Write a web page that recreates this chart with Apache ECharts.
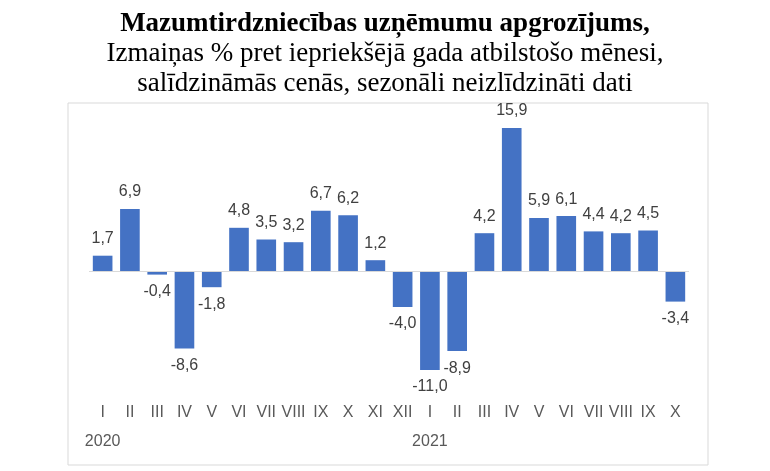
<!DOCTYPE html>
<html><head><meta charset="utf-8">
<script src="https://cdn.jsdelivr.net/npm/echarts@6/dist/echarts.min.js"></script>
<style>html,body{margin:0;background:#fff}#c{width:770px;height:471px}</style>
</head><body><div id="c"></div>
<script>
const months = ["I","II","III","IV","V","VI","VII","VIII","IX","X","XI","XII","I","II","III","IV","V","VI","VII","VIII","IX","X"];
const years = ["2020","","","","","","","","","","","","2021","","","","","","","","",""];
const values = [1.7,6.9,-0.4,-8.6,-1.8,4.8,3.5,3.2,6.7,6.2,1.2,-4.0,-11.0,-8.9,4.2,15.9,5.9,6.1,4.4,4.2,4.5,-3.4];
const titleLines = ["Mazumtirdzniecības uzņēmumu apgrozījums,","Izmaiņas % pret iepriekšējā gada atbilstošo mēnesi,","salīdzināmās cenās, sezonāli neizlīdzināti dati"];

const chart = echarts.init(document.getElementById('c'));
chart.setOption({
  animation:false,
  title:{left:'center',top:4,
    text:'{b|'+titleLines[0]+'}\n'+titleLines[1]+'\n'+titleLines[2],
    textStyle:{fontFamily:'Liberation Serif',fontSize:27,color:'#000',fontWeight:'normal',lineHeight:30,
      rich:{b:{fontFamily:'Liberation Serif',fontSize:27,fontWeight:'bold',color:'#000',lineHeight:30}}}},
  graphic:[{type:'rect',shape:{x:68,y:103,width:640,height:362},style:{fill:'none',stroke:'#d9d9d9',lineWidth:1}}],
  grid:{left:89,right:81,top:118,bottom:92},
  xAxis:[
    {type:'category',data:months,axisLine:{show:false},axisTick:{show:false},
     axisLabel:{margin:26,color:'#595959',fontSize:16,fontFamily:'Liberation Sans',interval:0}},
    {type:'category',data:years,position:'bottom',axisLine:{show:false},axisTick:{show:false},
     axisLabel:{margin:55,color:'#595959',fontSize:16,fontFamily:'Liberation Sans',interval:0}}
  ],
  yAxis:{type:'value',min:-12,max:17,show:false,splitLine:{show:false}},
  series:[{type:'bar',barWidth:'72%',
    itemStyle:{color:'#4472C4'},
    data:values.map(v=>({value:v,label:{position:v<0?'bottom':'top'}})),
    label:{show:true,distance:9,color:'#404040',fontSize:16,fontFamily:'Liberation Sans',
      formatter:p=>p.value.toFixed(1).replace('.',',')},
    markLine:{silent:true,symbol:'none',label:{show:false},lineStyle:{color:'#d9d9d9',type:'solid',width:1},data:[{yAxis:0}]}
  }]
});
</script></body></html>
